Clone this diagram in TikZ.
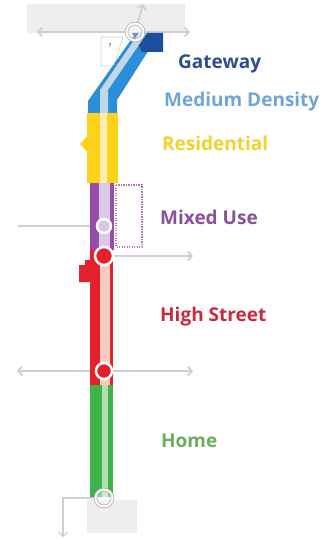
\documentclass[tikz,border=0pt]{standalone}
\usepackage{fontspec}
\setmainfont{Open Sans}
\usepackage{tikz}
\usetikzlibrary{arrows.meta}

\definecolor{gwblue}{HTML}{1F4E9E}
\definecolor{gwtext}{HTML}{2E4C8E}
\definecolor{mdblue}{HTML}{2A8FD8}
\definecolor{mdpale}{HTML}{C3D7EA}
\definecolor{mdtext}{HTML}{6EA6D8}
\definecolor{resyel}{HTML}{FFD21A}
\definecolor{respale}{HTML}{FDEDB5}
\definecolor{restext}{HTML}{F2D22E}
\definecolor{mupurp}{HTML}{9A4DA6}
\definecolor{mupale}{HTML}{D9C9E4}
\definecolor{mutext}{HTML}{8B509C}
\definecolor{hsred}{HTML}{E3202C}
\definecolor{hspale}{HTML}{F7CBBE}
\definecolor{hstext}{HTML}{C92A3E}
\definecolor{hmgreen}{HTML}{3DB44A}
\definecolor{hmpale}{HTML}{B5DDB3}
\definecolor{hmtext}{HTML}{6BAF5A}
\definecolor{guidegray}{HTML}{CFCFCF}
\definecolor{boxgray}{HTML}{EEEEEE}

\pgfdeclarelayer{background}
\pgfsetlayers{background,main}

\begin{document}
\begin{tikzpicture}[x=1pt,y=-1pt,
		guide/.style={draw=guidegray,line width=1.8pt},
		guidearr/.style={guide,-{Straight Barb[length=4pt,width=9pt]}},
		stop/.style={circle,inner sep=0,minimum size=#1},
		openstop/.style={stop=17pt,draw=guidegray!80!black,double=white,double distance=2pt,line width=0.7pt,fill=white,fill opacity=0.4},
		zone/.style={anchor=base west,inner sep=0,font=\fontsize{19}{22}\selectfont\bfseries}]
	\useasboundingbox (0,0) rectangle (327,540);
	% diagonal part
	\fill[mdblue] (88,113) -- (88,101) -- (135,34) -- (159,34) -- (117,100) -- (117,113) -- cycle;
	\fill[gwblue] (132,33) -- (163,33) -- (163,52) -- (142,52) -- cycle;
	\fill[mdpale] (100,113) -- (100,90) -- (139,33) -- (147,33) -- (108,90) -- (108,113) -- cycle;
	% stem
	\fill[resyel] (87,136) -- (83,141) -- (80,144) -- (83,147) -- (87,152) -- cycle;
	\fill[hsred] (79,265) -- (85,265) -- (85,260) -- (91,260) -- (91,282) -- (79,282) -- cycle;
	\foreach \ya/\yb/\xa/\xb/\la/\lb/\c/\p in {113/183/87/118/100/107/resyel/respale,183/250/90/114/99/110/mupurp/mupale,250/385/90/113/100/110/hsred/hspale,385/497/90/113/102/108/hmgreen/hmpale}{
		\fill[\c] (\xa,\ya) rectangle (\xb,\yb);
		\fill[\p] (\la,\ya) rectangle (\lb,\yb);
	}
	\draw[mupurp!75,line width=1.6pt,dash pattern=on 1.4pt off 1.1pt] (116,185) rectangle (142,247);
	\draw[gray!70,line width=0.6pt,dash pattern=on 1pt off 1pt] (101,37) -- (123,37) -- (114,66) -- (101,66) -- cycle;
	\node[font=\tiny\bfseries,text=gwtext] (q) at (110,46) {?};
	% stops
	\node[openstop] (gw) at (135,32) {};
	\node[stop=14pt,fill=mupale,draw=white,line width=2.5pt] (mu) at (104,226) {};
	\node[stop=18pt,fill=hsred,draw=white,line width=2.5pt] (hs1) at (104,256) {};
	\node[stop=16pt,fill=hsred,draw=white,line width=2.5pt] (hs2) at (104,371) {};
	\node[openstop] (hm) at (104,498) {};
	% labels
	\node[zone,text=gwtext] (gateway) at (178,69) {Gateway};
	\node[zone,text=mdtext] (medium) at (164,107) {Medium Density};
	\node[zone,text=restext] (residential) at (162,150) {Residential};
	\node[zone,text=mutext] (mixed) at (160,224) {Mixed Use};
	\node[zone,text=hstext] (highstreet) at (160,321) {High Street};
	\node[zone,text=hmtext] (home) at (161,447) {Home};
	\begin{pgfonlayer}{background}
		\fill[boxgray] (27,4) rectangle (185,33);
		\fill[boxgray] (87,500) rectangle (137,533);
		\coordinate (gwL) at (37,32);
		\coordinate (gwR) at (190,32);
		\coordinate (gwU) at (143,4);
		\coordinate (muL) at (18,226);
		\coordinate (hs1R) at (193,256);
		\coordinate (hs2L) at (17,371);
		\coordinate (hs2R) at (193,371);
		\coordinate (hmD) at (63,537);
		\draw[guidearr] (gw) -- (gwL);
		\draw[guidearr] (gw) -- (gwR);
		\draw[guidearr] (gw) -- (gwU);
		\draw[guide,line width=1.2pt] (mu) -- (muL);
		\draw[guidearr] (hs1) -- (hs1R);
		\draw[guidearr] (hs2) -- (hs2L);
		\draw[guidearr] (hs2) -- (hs2R);
		\draw[guidearr,line width=1.2pt] (hm.west) -| (hmD);
	\end{pgfonlayer}
\end{tikzpicture}
\end{document}
